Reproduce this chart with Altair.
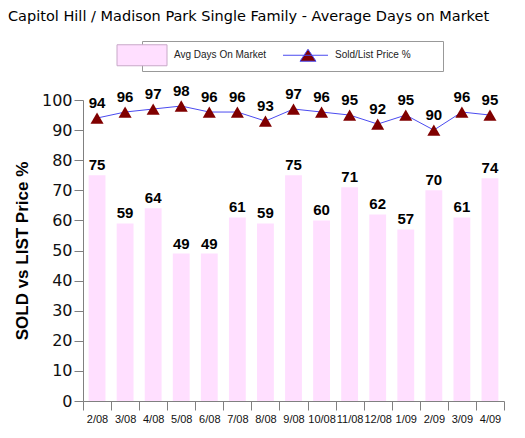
import altair as alt
import pandas as pd

months = ["2/08", "3/08", "4/08", "5/08", "6/08", "7/08", "8/08", "9/08",
          "10/08", "11/08", "12/08", "1/09", "2/09", "3/09", "4/09"]
avg_days = [75, 59, 64, 49, 49, 61, 59, 75, 60, 71, 62, 57, 70, 61, 74]
sold_list = [94, 96, 97, 98, 96, 96, 93, 97, 96, 95, 92, 95, 90, 96, 95]
series = ["Avg Days On Market", "Sold/List Price %"]

df = pd.DataFrame({"month": months, "days": avg_days, "pct": sold_list})
leg_df = pd.DataFrame({"series": series})

FONT = "Liberation Sans"
PINK = "#FFDFFF"
BLUE = "#4B4BF0"
DARKRED = "#800000"
AXIS_GRAY = "#808080"

# legend symbol paths (unit = symbol radius)
swatch_path = "M-4.857,0 L-4.857,0.001 M-3.714,-1 H1.048 V1 H-3.714 Z"
line_tri_path = ("M-3.238,0 H1.048 M-1.619,0.571 L-0.095,0.571 L-0.857,-0.571 Z "
                 "M11.5,-1 M11.5,1")

x_enc = alt.X(
    "month:N", sort=months,
    scale=alt.Scale(paddingInner=0, paddingOuter=0),
    axis=alt.Axis(title=None, labelAngle=0, tickBand="extent", labelFont=FONT,
                  labelFontSize=11, labelColor="#111111", labelPadding=3,
                  tickColor=AXIS_GRAY, domainColor=AXIS_GRAY, tickSize=9,
                  labelFlush=False, labelOverlap=False),
)
y_scale = alt.Scale(domain=[0, 100], nice=False, zero=True)
y_axis = alt.Axis(title="SOLD vs LIST Price %", values=list(range(0, 101, 10)),
                  labelFont="DejaVu Sans", labelFontSize=16, labelColor="#111111",
                  labelPadding=2, tickColor=AXIS_GRAY, domainColor=AXIS_GRAY,
                  tickSize=9, grid=False, titleFont=FONT, titleFontSize=17,
                  titleFontWeight="bold", titleColor="#000000", titlePadding=10)

base = alt.Chart(df)

bars = base.mark_bar(color=PINK, width=alt.RelativeBandSize(0.6)).encode(
    x=x_enc, y=alt.Y("days:Q", scale=y_scale, axis=y_axis))
bar_text = base.mark_text(baseline="bottom", dy=-2, font=FONT, fontSize=15,
                          fontWeight="bold", color="#000000").encode(
    x=x_enc, y=alt.Y("days:Q", scale=y_scale, axis=y_axis), text="days:Q")

line = base.mark_line(color=BLUE, strokeWidth=1).encode(
    x=x_enc, y=alt.Y("pct:Q", scale=y_scale, axis=y_axis))
points = base.mark_point(shape="triangle-up", filled=True, color=DARKRED, size=170,
                         opacity=1).encode(
    x=x_enc, y=alt.Y("pct:Q", scale=y_scale, axis=y_axis))
pct_text = base.mark_text(baseline="bottom", dy=-7, font=FONT, fontSize=15,
                          fontWeight="bold", color="#000000").encode(
    x=x_enc, y=alt.Y("pct:Q", scale=y_scale, axis=y_axis), text="pct:Q")

legend = alt.Legend(title=None, orient="none", legendX=59, legendY=-59,
                    direction="horizontal", strokeColor="#999999", fillColor="#FFFFFF",
                    padding=3, symbolSize=441, symbolStrokeWidth=1, symbolOpacity=1,
                    labelFont=FONT, labelFontSize=10, labelColor="#222222",
                    labelOffset=7, columnPadding=14)

leg_layer = alt.Chart(leg_df).mark_point(filled=True, opacity=1).encode(
    shape=alt.Shape("series:N", scale=alt.Scale(domain=series, range=[swatch_path, line_tri_path]),
                    legend=legend),
    fill=alt.Fill("series:N", scale=alt.Scale(domain=series, range=[PINK, DARKRED]),
                  legend=legend),
    stroke=alt.Stroke("series:N", scale=alt.Scale(domain=series, range=["#C8A8C8", BLUE]),
                      legend=legend),
).transform_filter("false")

chart = alt.layer(bars, bar_text, line, points, pct_text, leg_layer).properties(
    width=421, height=301,
    title=alt.TitleParams(
        "Capitol Hill / Madison Park Single Family - Average Days on Market",
        anchor="start", frame="group", font="DejaVu Sans", fontSize=14.5,
        fontWeight="normal", color="#000000", dx=-75, dy=-12),
    autosize=alt.AutoSizeParams(type="none"),
    padding={"left": 75, "top": 92, "right": 10, "bottom": 25},
).configure_view(stroke=None)

chart.save("out.html", embed_options={"renderer": "svg", "actions": False})
